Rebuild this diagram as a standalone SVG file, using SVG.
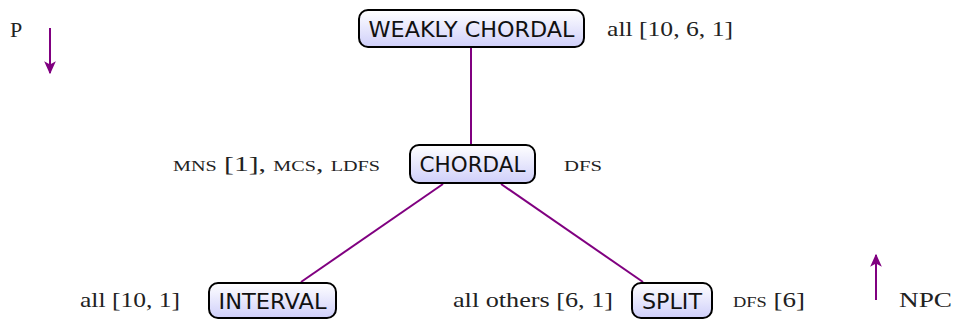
<svg xmlns="http://www.w3.org/2000/svg" width="953" height="320" viewBox="0 0 953 320">
  <defs>
    <linearGradient id="nodeFill" x1="0" y1="0" x2="0" y2="1">
      <stop offset="0" stop-color="#ffffff"/>
      <stop offset="1" stop-color="#cfcffa"/>
    </linearGradient>
    <marker id="arrow" viewBox="0 0 10 10" refX="9" refY="5" markerWidth="6.5" markerHeight="6.5" orient="auto" markerUnits="strokeWidth">
      <path d="M0,0.5 L10,5 L0,9.5 L2.5,5 Z" fill="#800080"/>
    </marker>
  </defs>
  <style>
    .node rect { fill: url(#nodeFill); stroke: #000; stroke-width: 2; }
    .node text { font-family: "DejaVu Sans", "Liberation Sans", sans-serif; font-size: 21px; fill: #111; text-anchor: middle; }
    .lbl { font-family: "Liberation Serif", "DejaVu Serif", serif; font-size: 22px; fill: #222; }
    .sc { font-variant: small-caps; }
    .edge { stroke: #800080; stroke-width: 2; fill: none; }
  </style>

  <g id="edges">
    <line class="edge" x1="471" y1="47" x2="471" y2="145"/>
    <line class="edge" x1="443" y1="184" x2="301" y2="282"/>
    <line class="edge" x1="501" y1="184" x2="643" y2="282"/>
    <line class="edge" x1="50" y1="28" x2="50" y2="73" marker-end="url(#arrow)"/>
    <line class="edge" x1="876" y1="300" x2="876" y2="255" marker-end="url(#arrow)"/>
  </g>

  <g id="weakly-chordal" class="node">
    <rect x="359" y="10" width="225" height="37" rx="9"/>
    <text x="471.5" y="36.5" textLength="206" lengthAdjust="spacingAndGlyphs">WEAKLY CHORDAL</text>
  </g>
  <g id="chordal" class="node">
    <rect x="410" y="145" width="125" height="38" rx="9"/>
    <text x="472.5" y="172" textLength="106" lengthAdjust="spacingAndGlyphs">CHORDAL</text>
  </g>
  <g id="interval" class="node">
    <rect x="209" y="283" width="127" height="35" rx="9"/>
    <text x="272.5" y="309" textLength="108" lengthAdjust="spacingAndGlyphs">INTERVAL</text>
  </g>
  <g id="split" class="node">
    <rect x="632" y="283" width="80" height="35" rx="9"/>
    <text x="672" y="309" textLength="60" lengthAdjust="spacingAndGlyphs">SPLIT</text>
  </g>

  <g id="labels">
    <text class="lbl" x="10" y="37">P</text>
    <text class="lbl" x="607" y="36" textLength="126" lengthAdjust="spacingAndGlyphs">all [10, 6, 1]</text>
    <text class="lbl" x="173" y="171" textLength="207" lengthAdjust="spacingAndGlyphs"><tspan class="sc">mns</tspan> [1], <tspan class="sc">mcs</tspan>, <tspan class="sc">ldfs</tspan></text>
    <text class="lbl sc" x="564" y="171" textLength="38" lengthAdjust="spacingAndGlyphs">dfs</text>
    <text class="lbl" x="80" y="307" textLength="100" lengthAdjust="spacingAndGlyphs">all [10, 1]</text>
    <text class="lbl" x="453" y="307" textLength="160" lengthAdjust="spacingAndGlyphs">all others [6, 1]</text>
    <text class="lbl" x="733" y="307" textLength="72" lengthAdjust="spacingAndGlyphs"><tspan class="sc">dfs</tspan> [6]</text>
    <text class="lbl" x="899" y="307" textLength="53" lengthAdjust="spacingAndGlyphs">NPC</text>
  </g>
</svg>
